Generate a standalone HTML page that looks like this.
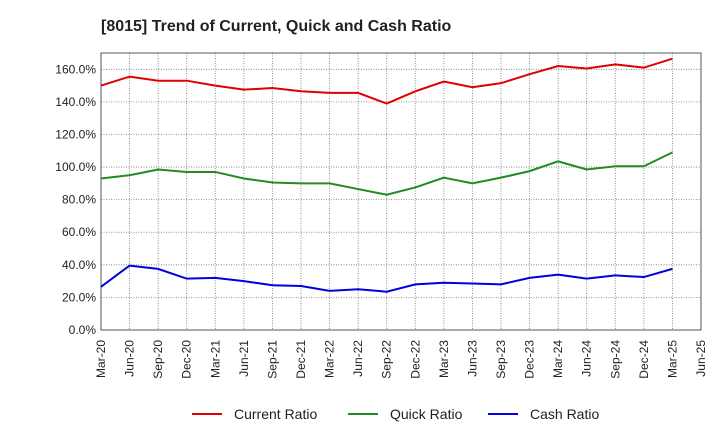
<!DOCTYPE html>
<html><head><meta charset="utf-8"><style>
body{margin:0;background:#fff;font-family:"Liberation Sans",sans-serif;}
</style></head><body>
<svg id="chart" width="720" height="440" xmlns="http://www.w3.org/2000/svg">
<text x="101" y="31" font-size="16" font-weight="bold" fill="#222">[8015]  Trend of Current, Quick and Cash Ratio</text>
<g id="grid"></g><g id="axes"></g><g id="series"></g><g id="legend"></g>
</svg>
<script>
const categories=["Mar-20","Jun-20","Sep-20","Dec-20","Mar-21","Jun-21","Sep-21","Dec-21","Mar-22","Jun-22","Sep-22","Dec-22","Mar-23","Jun-23","Sep-23","Dec-23","Mar-24","Jun-24","Sep-24","Dec-24","Mar-25","Jun-25"];
const currentRatio=[150,155.5,153,153,150,147.5,148.5,146.5,145.5,145.5,139,146.5,152.5,149,151.5,157,162,160.5,163,161,166.5];
const quickRatio=[93,95,98.5,97,97,93,90.5,90,90,86.5,83,87.5,93.5,90,93.5,97.5,103.5,98.5,100.5,100.5,109];
const cashRatio=[26.5,39.5,37.5,31.5,32,30,27.5,27,24,25,23.5,28,29,28.5,28,32,34,31.5,33.5,32.5,37.5];
const yTicks=[0,20,40,60,80,100,120,140,160];
const seriesNames=["Current Ratio","Quick Ratio","Cash Ratio"];
const L=101,R=701,T=53,B=330,YMAX=170;
const ns="http://www.w3.org/2000/svg";
const xS=i=>L+(R-L)*i/(categories.length-1);
const yS=v=>B-(B-T)*v/YMAX;
function mk(tag,attrs,parent){const e=document.createElementNS(ns,tag);for(const k in attrs)e.setAttribute(k,attrs[k]);document.getElementById(parent).appendChild(e);return e;}
categories.forEach((c,i)=>{
 const g=mk("line",{x1:xS(i),x2:xS(i),y1:T,y2:B,stroke:"#777","stroke-dasharray":"1,1.5","stroke-width":0.8},"grid");
 
 
 const x=xS(i),t=mk("text",{x:x,y:B+6,"font-size":12,fill:"#222","text-anchor":"end",transform:`rotate(-90 ${x+4} ${B+6})`},"axes");
 t.textContent=c;
 
 
});
yTicks.forEach(v=>{
 const g=mk("line",{x1:L,x2:R,y1:yS(v),y2:yS(v),stroke:"#777","stroke-dasharray":"1,1.5","stroke-width":0.8},"grid");
 
 
 const t=mk("text",{x:L-5,y:yS(v)+4,"font-size":12,fill:"#222","text-anchor":"end"},"axes");
 t.textContent=v.toFixed(1)+"%";
 
 
});
const frame=mk("rect",{x:L,y:T,width:R-L,height:B-T,fill:"none",stroke:"#333","stroke-width":0.8},"axes");


const colors=["#e00000","#228b22","#0000e0"];
[currentRatio,quickRatio,cashRatio].forEach((d,si)=>{
 const p=mk("polyline",{points:d.map((v,i)=>xS(i)+","+yS(v)).join(" "),fill:"none",stroke:colors[si],"stroke-width":2},"series");
 
 
});
const lx=[192,348,488];
seriesNames.forEach((n,i)=>{
 const l=mk("line",{x1:lx[i],x2:lx[i]+30,y1:414,y2:414,stroke:colors[i],"stroke-width":2},"legend");
 
 
 const t=mk("text",{x:lx[i]+42,y:419,"font-size":14,fill:"#222"},"legend");
 t.textContent=n;
 
 
});
</script>
</body></html>
